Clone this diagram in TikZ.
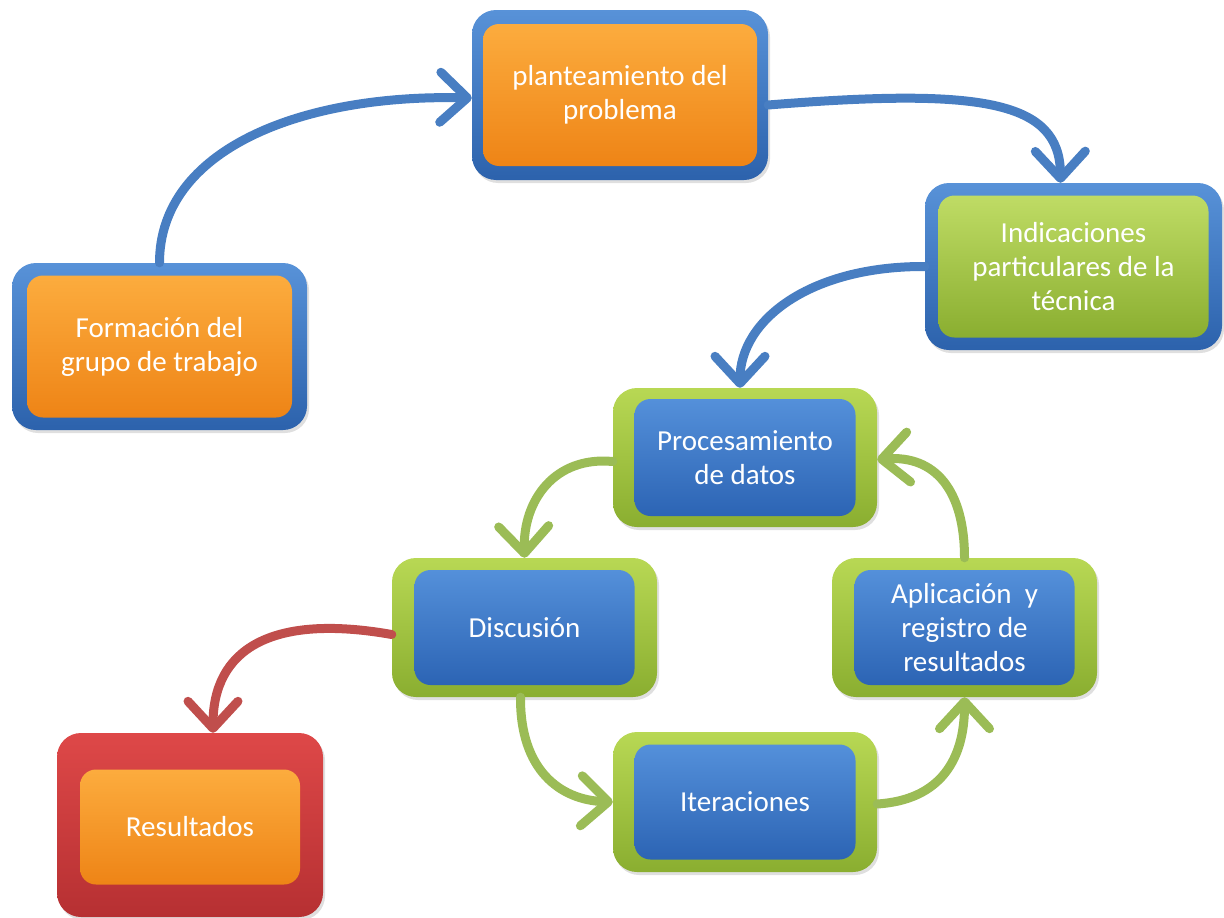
\documentclass[tikz,border=0pt]{standalone}
\usepackage{fontspec}
\setmainfont{Carlito}
\usetikzlibrary{arrows.meta,shadows}
\definecolor{blueTop}{RGB}{88,146,216}
\definecolor{blueBot}{RGB}{44,98,172}
\definecolor{orTop}{RGB}{252,172,62}
\definecolor{orBot}{RGB}{238,132,22}
\definecolor{grTop}{RGB}{184,216,84}
\definecolor{grBot}{RGB}{138,174,48}
\definecolor{rdTop}{RGB}{222,72,72}
\definecolor{rdBot}{RGB}{182,48,50}
\definecolor{ibTop}{RGB}{84,144,218}
\definecolor{ibBot}{RGB}{44,100,180}
\definecolor{arBlue}{RGB}{72,126,194}
\definecolor{arGreen}{RGB}{155,188,86}
\definecolor{arRed}{RGB}{192,78,76}
\tikzset{
  outerbox/.style={rounded corners=24pt, inner sep=0pt,
    drop shadow={opacity=0.25, shadow xshift=2pt, shadow yshift=-3pt}},
  bframe/.style={outerbox, top color=blueTop, bottom color=blueBot},
  gframe/.style={outerbox, top color=grTop, bottom color=grBot},
  rframe/.style={outerbox, top color=rdTop, bottom color=rdBot},
  innerbox/.style={rounded corners=16pt, inner sep=0pt, align=center,
    text=white, font=\fontsize{29}{34}\selectfont},
  orfill/.style={innerbox, top color=orTop, bottom color=orBot},
  grfill/.style={innerbox, top color=grTop!90!white, bottom color=grBot},
  blfill/.style={innerbox, top color=ibTop, bottom color=ibBot},
  conn/.style={line width=9pt, line cap=round,
    -{Straight Barb[length=27pt,width=50pt,round]}},
  bconn/.style={conn, draw=arBlue},
  gconn/.style={conn, draw=arGreen},
  rconn/.style={conn, draw=arRed}
}
\begin{document}
\begin{tikzpicture}[x=1pt,y=-1pt]
\useasboundingbox (0,0) rectangle (1224,918);
% outer frames
\node[bframe, minimum width=295pt, minimum height=167pt] (F) at (159.5,346.5) {};
\node[bframe, minimum width=296pt, minimum height=170pt] (P) at (620,95) {};
\node[bframe, minimum width=297pt, minimum height=167pt] (I) at (1073.5,266.5) {};
\node[gframe, minimum width=264pt, minimum height=139pt] (Pr) at (745,457.5) {};
\node[gframe, minimum width=265pt, minimum height=139pt] (D) at (524.5,627.5) {};
\node[gframe, minimum width=265pt, minimum height=139pt] (A) at (964.5,627.5) {};
\node[gframe, minimum width=264pt, minimum height=140pt] (It) at (745,802) {};
\node[rframe, minimum width=266pt, minimum height=184pt] (R) at (190,825) {};
% inner boxes with text
\node[orfill, minimum width=265pt, minimum height=142pt] (Fi) at (F) {Formación del\\grupo de trabajo};
\node[orfill, minimum width=274pt, minimum height=142pt] (Pi) at (P) {planteamiento del\\problema};
\node[grfill, minimum width=270pt, minimum height=142pt] (Ii) at (I) {Indicaciones\\particulares de la\\técnica};
\node[blfill, minimum width=221pt, minimum height=117pt] (Pri) at (Pr) {Procesamiento\\de datos};
\node[blfill, minimum width=220pt, minimum height=115pt] (Di) at (D) {Discusión};
\node[blfill, minimum width=220pt, minimum height=115pt] (Ai) at (A) {Aplicación~ y\\registro de\\resultados};
\node[blfill, minimum width=221pt, minimum height=115pt] (Iti) at (It) {Iteraciones};
\node[orfill, minimum width=220pt, minimum height=115pt] (Ri) at ([yshift=-2pt]R) {Resultados};
% connectors
\draw[bconn] (F.north) .. controls (159.5,150) and (300,94) .. ([yshift=-3pt]P.west);
\draw[bconn] ([yshift=-10pt]P.east) .. controls (980,88) and (1060,100) .. ([xshift=-13pt]I.north);
\draw[bconn] (I.west) .. controls (810,266) and (740,320) .. ([xshift=-5pt]Pr.north);
\draw[gconn] ([yshift=-4pt]Pr.west) .. controls (555,456) and (523,500) .. (D.north);
\draw[gconn] (A.north) .. controls (964.5,490) and (935,455) .. ([yshift=-2pt]Pr.east);
\draw[rconn] ([yshift=-7pt]D.west) .. controls (270,613) and (213,650) .. ([xshift=23pt]R.north);
\draw[gconn] ([xshift=-4pt]D.south) .. controls (520,770) and (560,800) .. (It.west);
\draw[gconn] ([yshift=-2pt]It.east) .. controls (940,800) and (964.5,760) .. (A.south);
\end{tikzpicture}
\end{document}
